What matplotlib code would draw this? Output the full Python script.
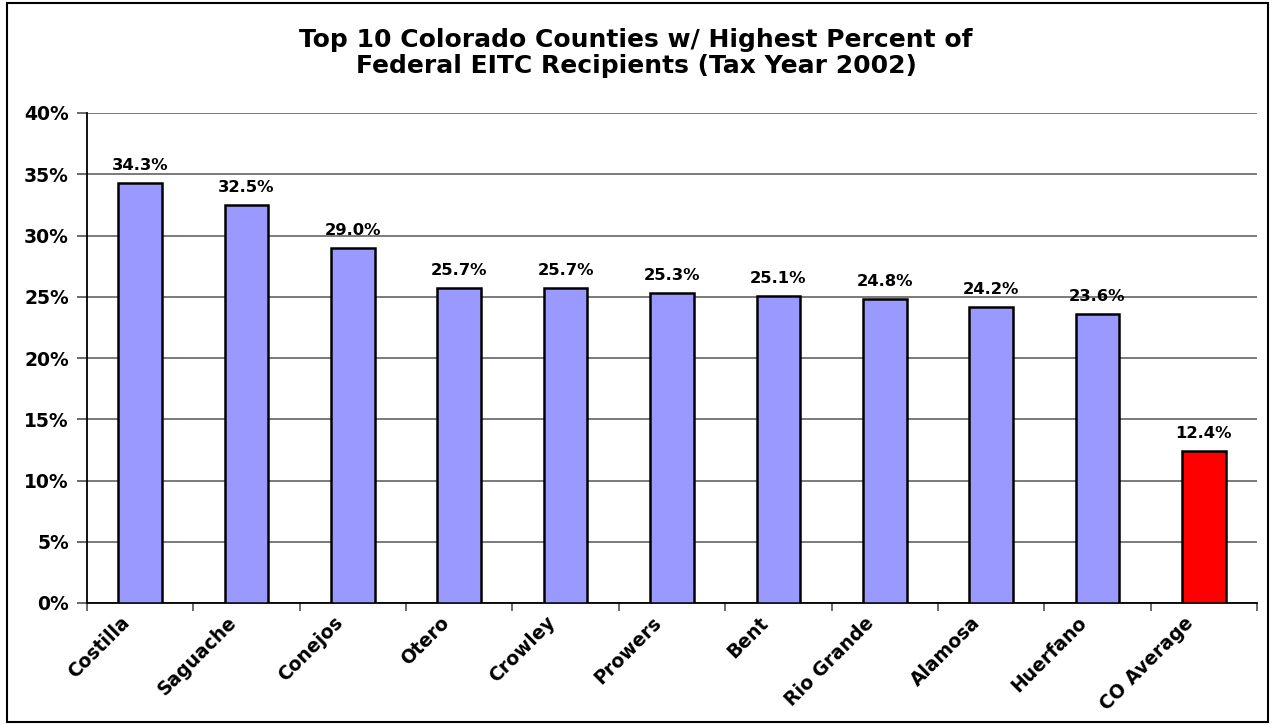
import numpy as np
import matplotlib
matplotlib.use('Agg')
import matplotlib.pyplot as plt
import matplotlib.transforms as mtransforms
from matplotlib.patches import Rectangle

counties = ['Costilla', 'Saguache', 'Conejos', 'Otero', 'Crowley', 'Prowers',
            'Bent', 'Rio Grande', 'Alamosa', 'Huerfano', 'CO Average']
pct = [34.3, 32.5, 29.0, 25.7, 25.7, 25.3, 25.1, 24.8, 24.2, 23.6, 12.4]
y_ticks = [0, 5, 10, 15, 20, 25, 30, 35, 40]

plt.rcParams['font.family'] = ['DejaVu Sans']
plt.rcParams['font.weight'] = 'bold'

fig = plt.figure(figsize=(12.72, 7.25), dpi=100)
ax = fig.add_axes([87 / 1272, 1 - 603 / 725, 1170 / 1272, 490 / 725])

x = np.arange(len(counties))
colors = ['#9999FF'] * (len(counties) - 1) + ['#FF0000']
ax.bar(x, pct, width=0.41, color=colors, edgecolor='black', linewidth=1.8, zorder=3)

# value labels above bars
for xi, v in zip(x, pct):
    ax.text(xi, v + 0.8, f'{v:.1f}%', ha='center', va='bottom', fontsize=11.8,
            fontweight='bold', zorder=4)

ax.set_xlim(-0.5, len(counties) - 0.5)
ax.set_ylim(0, 40)
ax.set_yticks(y_ticks)
ax.set_yticklabels([f'{t}%' for t in y_ticks], fontsize=13.5, fontweight='bold')
ax.yaxis.grid(True, color='#707070', linewidth=1.3, zorder=0)

# ticks between categories, names drawn under bars (shifted left like excel does)
ax.set_xticks(np.arange(-0.5, len(counties) + 0.5, 1))
ax.set_xticklabels([])
shift = mtransforms.ScaledTranslation(-20 / 100, -10 / 100, fig.dpi_scale_trans)
for xi, name in zip(x, counties):
    ax.text(xi, 0, name, transform=ax.get_xaxis_transform() + shift, rotation=45,
            ha='right', va='top', rotation_mode='anchor', fontsize=13.5, fontweight='bold')
ax.tick_params(axis='x', which='major', length=6, width=1.2, direction='out', color='#505050')
ax.tick_params(axis='y', length=7, width=1.2, direction='out', pad=6, color='#505050')

for s in ['top', 'right']:
    ax.spines[s].set_visible(False)
ax.spines['left'].set_linewidth(1.3)
ax.spines['bottom'].set_linewidth(1.3)

fig.text(0.5, 1 - 53 / 725, 'Top 10 Colorado Counties w/ Highest Percent of\nFederal EITC Recipients (Tax Year 2002)',
         ha='center', va='center', fontsize=18, fontweight='bold', linespacing=1.08)

fig.patches.append(Rectangle((7 / 1272, 3 / 725), 1261 / 1272, 719 / 725, transform=fig.transFigure,
                             fill=False, edgecolor='black', linewidth=1.5))

fig.savefig('out.png', dpi=100)
